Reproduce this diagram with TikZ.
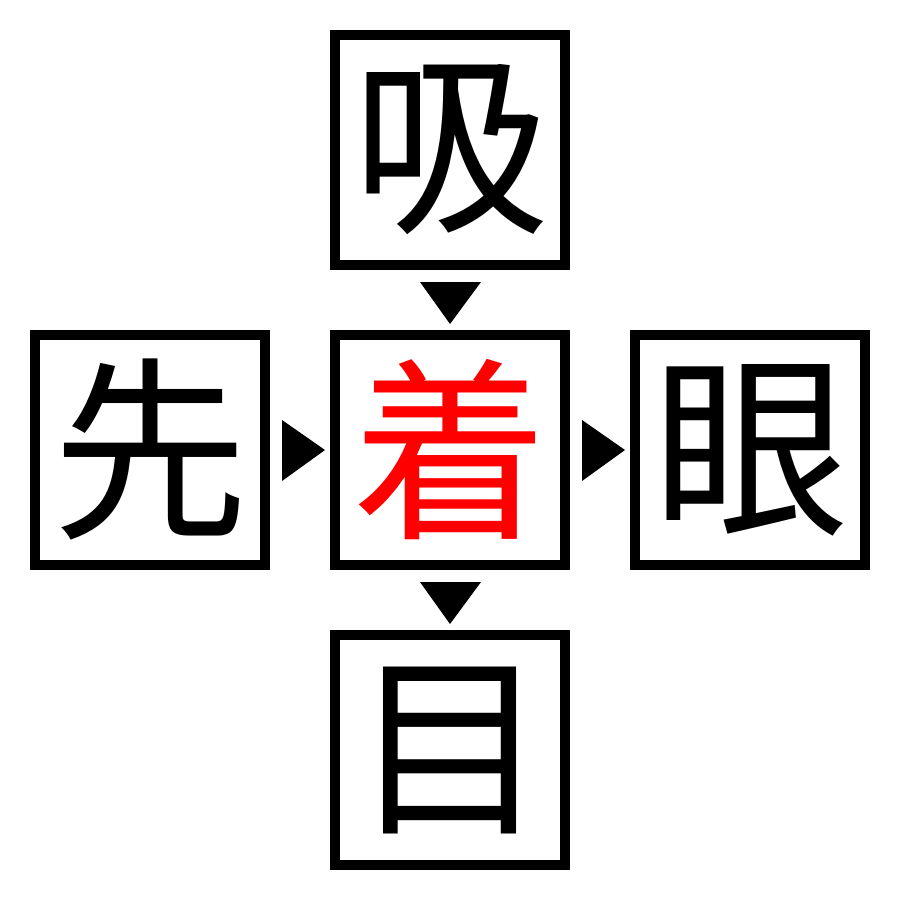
\documentclass[tikz,border=0pt]{standalone}
\usepackage{fontspec}
\newfontfamily\cjk{Noto Sans CJK JP}
\begin{document}
\begin{tikzpicture}[x=1pt,y=-1pt,
  kbox/.style={draw=black,line width=10pt,minimum width=230pt,minimum height=230pt,inner sep=0pt,
    font=\cjk\fontsize{196}{196}\selectfont},
  tri/.style={fill=black,draw=none}]
\useasboundingbox (0,0) rectangle (900,900);
\node[kbox] (top) at (450,150) {吸};
\node[kbox] (left) at (150,450) {先};
\node[kbox,text=red] (mid) at (450,450) {着};
\node[kbox] (right) at (750,450) {眼};
\node[kbox] (bot) at (450,750) {目};
% down triangles
\fill[tri] (420,282) -- (481,282) -- (450,324) -- cycle;
\fill[tri] (420,582) -- (481,582) -- (450,624) -- cycle;
% right triangles
\fill[tri] (282,420) -- (282,481) -- (325,450) -- cycle;
\fill[tri] (582,420) -- (582,481) -- (625,450) -- cycle;
\end{tikzpicture}
\end{document}
